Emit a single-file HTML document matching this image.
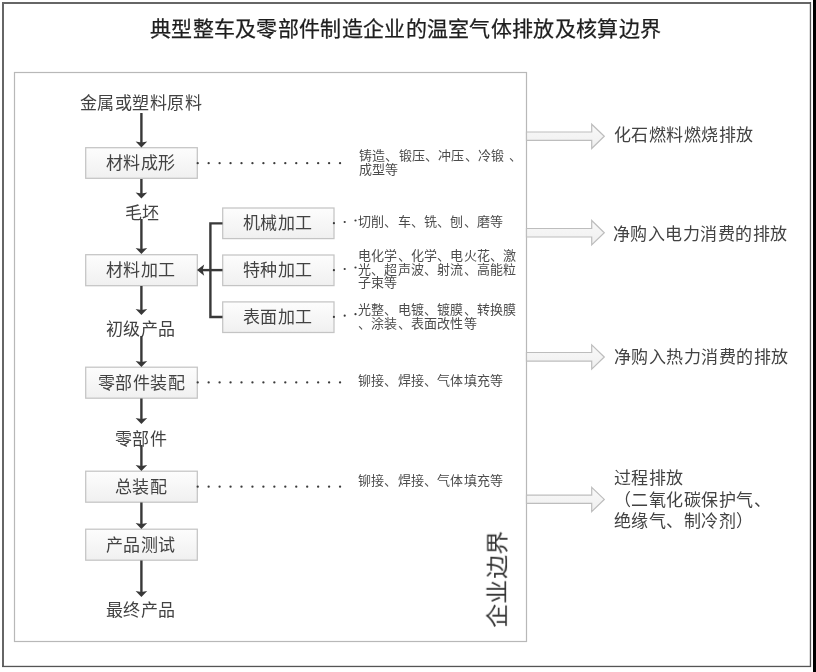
<!DOCTYPE html>
<html lang="zh-CN">
<head>
<meta charset="utf-8">
<style>
html,body{margin:0;padding:0;}
body{width:816px;height:672px;position:relative;overflow:hidden;background:#fff;font-family:"Liberation Serif",serif;color:#333;}
.a{position:absolute;white-space:nowrap;line-height:1;will-change:transform;}
.strip{position:absolute;left:813px;top:0;width:3px;height:672px;background:#000;}
.title{font-family:"Liberation Sans",sans-serif;font-size:21px;letter-spacing:0.3px;color:#1e1e1e;-webkit-text-stroke:0.25px #1e1e1e;}
.lbl{font-size:17px;letter-spacing:0.45px;color:#424242;}
.sm{font-size:13px;letter-spacing:0.2px;color:#4c4c4c;line-height:13.7px;}
svg{position:absolute;left:0;top:0;}
</style>
</head>
<body>
<div class="strip"></div>
<svg width="816" height="672">
  <defs>
    <linearGradient id="bg" x1="0" y1="0" x2="0" y2="1">
      <stop offset="0" stop-color="#fdfdfd"/>
      <stop offset="1" stop-color="#f0f0f0"/>
    </linearGradient>
    <linearGradient id="ag" x1="0" y1="0" x2="0" y2="1">
      <stop offset="0" stop-color="#f9f9f9"/>
      <stop offset="1" stop-color="#efefef"/>
    </linearGradient>
  </defs>
  <!-- outer frame -->
  <rect x="2" y="2" width="809" height="2" fill="#666"/>
  <rect x="2" y="2" width="2" height="665" fill="#666"/>
  <rect x="809.8" y="2" width="1.3" height="665" fill="#555"/>
  <rect x="2" y="665.8" width="809" height="1.3" fill="#555"/>
  <!-- inner boundary -->
  <rect x="14.5" y="72.5" width="512" height="569" fill="none" stroke="#b8b8b8" stroke-width="1.2"/>

  <!-- main boxes -->
  <g fill="url(#bg)" stroke="#c4c4c4" stroke-width="1.25">
    <rect x="85.7" y="147.7" width="111.6" height="30.6"/>
    <rect x="85.7" y="254.7" width="111.6" height="31"/>
    <rect x="85.7" y="367.2" width="111.6" height="31"/>
    <rect x="85.7" y="471.2" width="111.6" height="31"/>
    <rect x="85.7" y="529.2" width="111.6" height="31"/>
    <rect x="222.7" y="208" width="111.3" height="30.6"/>
    <rect x="222.7" y="255" width="111.3" height="30.6"/>
    <rect x="222.7" y="301.9" width="111.3" height="30.6"/>
  </g>

  <!-- down arrows -->
  <g stroke="#383838" stroke-width="2.4" fill="none">
    <path d="M141.4,113 V143"/>
    <path d="M141.4,179 V194"/>
    <path d="M141.4,219 V250"/>
    <path d="M141.4,286 V311"/>
    <path d="M141.4,336 V363"/>
    <path d="M141.4,398.5 V420"/>
    <path d="M141.4,445 V467"/>
    <path d="M141.4,502.5 V525"/>
    <path d="M141.4,560.5 V593"/>
    <!-- bracket -->
    <path d="M222.5,223.4 H210.4 V317 H222.5"/>
    <path d="M222.5,270.1 H202"/>
  </g>
  <g fill="#383838">
    <path d="M135.6,141.6 L141.4,142.6 L147.2,141.6 L141.4,147.6 Z"/>
    <path d="M135.6,192.5 L141.4,193.5 L147.2,192.5 L141.4,198.5 Z"/>
    <path d="M135.6,248 L141.4,249 L147.2,248 L141.4,254 Z"/>
    <path d="M135.6,309 L141.4,310 L147.2,309 L141.4,315 Z"/>
    <path d="M135.6,361 L141.4,362 L147.2,361 L141.4,367 Z"/>
    <path d="M135.6,418 L141.4,419 L147.2,418 L141.4,424 Z"/>
    <path d="M135.6,465 L141.4,466 L147.2,465 L141.4,471 Z"/>
    <path d="M135.6,523 L141.4,524 L147.2,523 L141.4,529 Z"/>
    <path d="M135.6,591 L141.4,592 L147.2,591 L141.4,597 Z"/>
    <path d="M204.2,264.4 L202.6,270.1 L204.2,275.8 L197,270.1 Z"/>
  </g>

  <!-- dotted leaders -->
  <g fill="#3a3a3a">
    <g id="d1">
      <circle cx="197.70" cy="163.2" r="1.15"/><circle cx="208.65" cy="163.2" r="1.15"/><circle cx="219.60" cy="163.2" r="1.15"/><circle cx="230.55" cy="163.2" r="1.15"/><circle cx="241.50" cy="163.2" r="1.15"/><circle cx="252.45" cy="163.2" r="1.15"/><circle cx="263.40" cy="163.2" r="1.15"/><circle cx="274.35" cy="163.2" r="1.15"/><circle cx="285.30" cy="163.2" r="1.15"/><circle cx="296.25" cy="163.2" r="1.15"/><circle cx="307.20" cy="163.2" r="1.15"/><circle cx="318.15" cy="163.2" r="1.15"/><circle cx="329.10" cy="163.2" r="1.15"/><circle cx="340.05" cy="163.2" r="1.15"/>
    </g>
    <use href="#d1" y="219.2"/>
    <use href="#d1" y="323.5"/>
    <circle cx="333.9" cy="223.2" r="1.1"/><circle cx="344.7" cy="222" r="1.1"/><circle cx="355.5" cy="220.5" r="1.1"/>
    <circle cx="333.9" cy="270.2" r="1.1"/><circle cx="344.7" cy="269" r="1.1"/><circle cx="355.5" cy="267.5" r="1.1"/>
    <circle cx="333.9" cy="316.9" r="1.1"/><circle cx="344.7" cy="315.7" r="1.1"/><circle cx="355.5" cy="314.2" r="1.1"/>
  </g>

  <!-- hollow arrows -->
  <g fill="url(#ag)" stroke="#bdbdbd" stroke-width="1.2" stroke-linejoin="miter">
    <path d="M526.5,132 H591.7 V124.2 L604.3,136.3 L591.7,148.5 V140.3 H526.5 Z"/>
    <path d="M526.5,228.5 H591.7 V220.5 L604.3,232.7 L591.7,244.9 V237 H526.5 Z"/>
    <path d="M526.5,352.5 H591.7 V344.8 L604.3,357 L591.7,369.2 V361.2 H526.5 Z"/>
    <path d="M526.5,495.2 H591.7 V487.3 L604.3,499.4 L591.7,511.6 V503.3 H526.5 Z"/>
  </g>
</svg>

<div class="a title" style="left:150px;top:17.7px;">典型整车及零部件制造企业的温室气体排放及核算边界</div>

<div class="a lbl" style="left:80.2px;top:95.2px;">金属或塑料原料</div>
<div class="a lbl" style="left:105.9px;top:155.2px;">材料成形</div>
<div class="a lbl" style="left:124.5px;top:205px;">毛坯</div>
<div class="a lbl" style="left:106.4px;top:262.2px;">材料加工</div>
<div class="a lbl" style="left:106px;top:321px;">初级产品</div>
<div class="a lbl" style="left:97.7px;top:374.9px;">零部件装配</div>
<div class="a lbl" style="left:114.8px;top:431.2px;">零部件</div>
<div class="a lbl" style="left:114.8px;top:479.2px;">总装配</div>
<div class="a lbl" style="left:106.4px;top:537px;">产品测试</div>
<div class="a lbl" style="left:106.4px;top:602px;">最终产品</div>

<div class="a lbl" style="left:243.2px;top:215.3px;">机械加工</div>
<div class="a lbl" style="left:242.9px;top:262.3px;">特种加工</div>
<div class="a lbl" style="left:242.9px;top:309.1px;">表面加工</div>

<div class="a sm" style="left:359.3px;top:149.1px;">铸造、锻压、冲压、冷锻<span style="margin-left:1px"> </span>、<br>成型等</div>
<div class="a sm" style="left:358px;top:215px;">切削、车、铣、刨、磨等</div>
<div class="a sm" style="left:358px;top:249px;">电化学、化学、电火花、激<br>光、超声波、射流、高能粒<br>子束等</div>
<div class="a sm" style="left:358px;top:303px;">光整、电镀、镀膜、转换膜<br>、涂装、表面改性等</div>
<div class="a sm" style="left:358px;top:374px;">铆接、焊接、气体填充等</div>
<div class="a sm" style="left:358px;top:474px;">铆接、焊接、气体填充等</div>

<div class="a lbl" style="left:613.6px;top:127.4px;">化石燃料燃烧排放</div>
<div class="a lbl" style="left:613.1px;top:225.8px;">净购入电力消费的排放</div>
<div class="a lbl" style="left:613.5px;top:348.6px;">净购入热力消费的排放</div>
<div class="a lbl" style="left:614px;top:468px;line-height:21.5px;">过程排放<br>（二氧化碳保护气、<br>绝缘气、制冷剂）</div>

<div class="a" style="left:449px;top:567px;font-size:24px;letter-spacing:0.4px;transform:rotate(-90deg) scale(1,0.93);transform-origin:center;color:#333;">企业边界</div>
</body>
</html>
